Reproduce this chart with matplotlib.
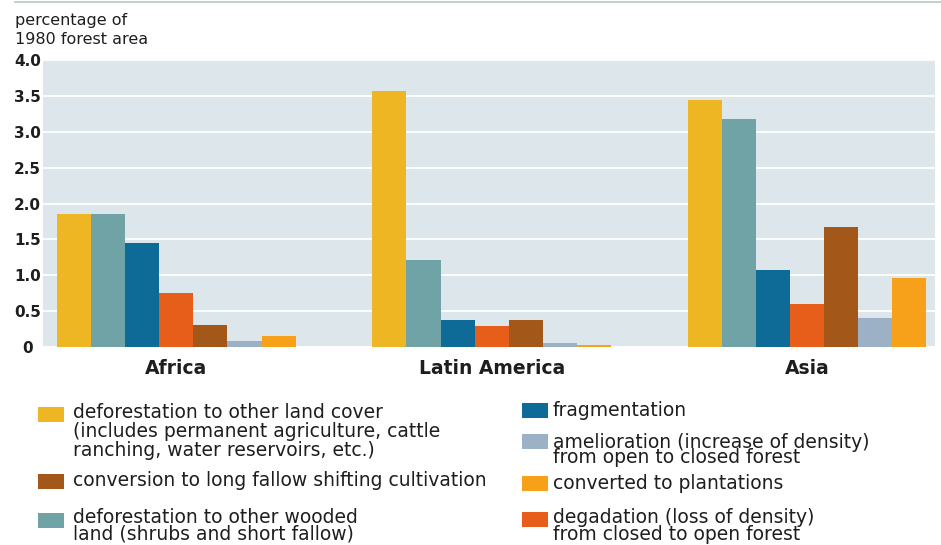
import numpy as np
from matplotlib import pyplot as plt
from matplotlib.patches import Rectangle

# data
regions = ['Africa', 'Latin America', 'Asia']
deforest_other = [1.85, 3.57, 3.44]
deforest_wooded = [1.86, 1.21, 3.18]
fragmentation = [1.45, 0.37, 1.08]
degradation = [0.75, 0.29, 0.60]
long_fallow = [0.30, 0.37, 1.67]
amelioration = [0.08, 0.05, 0.40]
plantations = [0.16, 0.03, 0.96]

yticks = [0, 0.5, 1.0, 1.5, 2.0, 2.5, 3.0, 3.5, 4.0]
ytick_labels = ['0', '0.5', '1.0', '1.5', '2.0', '2.5', '3.0', '3.5', '4.0']

# bar order inside each group
series = [deforest_other, deforest_wooded, fragmentation, degradation,
          long_fallow, amelioration, plantations]
colors = ['#efb624', '#6fa3a6', '#0e6b97', '#e75e1a', '#a3581a', '#9cb0c6', '#f7a01a']

labels = {
    'deforest_other': 'deforestation to other land cover\n(includes permanent agriculture, cattle\nranching, water reservoirs, etc.)',
    'long_fallow': 'conversion to long fallow shifting cultivation',
    'deforest_wooded': 'deforestation to other wooded\nland (shrubs and short fallow)',
    'fragmentation': 'fragmentation',
    'amelioration': 'amelioration (increase of density)\nfrom open to closed forest',
    'plantations': 'converted to plantations',
    'degradation': 'degadation (loss of density)\nfrom closed to open forest',
}
label_colors = {
    'deforest_other': colors[0], 'deforest_wooded': colors[1],
    'fragmentation': colors[2], 'degradation': colors[3],
    'long_fallow': colors[4], 'amelioration': colors[5],
    'plantations': colors[6],
}

W, H = 941, 545
fig = plt.figure(figsize=(W / 100, H / 100), dpi=100)
fig.patch.set_facecolor('white')

def fx(x):
    return x / W

def fy(y):
    return 1 - y / H

ax = fig.add_axes([fx(43), fy(347), fx(935 - 43), (347 - 60) / H])
ax.set_facecolor('#dde6ea')

step = 9.25
base = np.arange(len(regions)) * step
for j, vals in enumerate(series):
    ax.bar(base + j, vals, width=1.0, color=colors[j], linewidth=0)

ax.set_xlim(-0.91, 25.25)
ax.set_ylim(0, 4.0)
ax.set_yticks(yticks)
ax.set_yticklabels(ytick_labels, fontsize=11, fontweight='bold', color='#1e1e1e',
                   ha='center')
ax.set_xticks(base + 3)
ax.set_xticklabels(regions, fontsize=13.5, fontweight='bold', color='#1e1e1e')
ax.tick_params(axis='y', length=0, pad=11)
ax.tick_params(axis='x', length=0, pad=9)
ax.grid(axis='y', color='white', linewidth=1.3)
ax.set_axisbelow(True)
for s in ax.spines.values():
    s.set_visible(False)

# title above the y axis
fig.text(fx(15), fy(13), 'percentage of\n1980 forest area', fontsize=11.5,
         color='#1e1e1e', va='top', ha='left', linespacing=1.3)

# faint rule at the very top
fig.add_artist(plt.Line2D([fx(15), 1], [fy(1.5), fy(1.5)], color='#b9c6c8',
                          linewidth=1.2, transform=fig.transFigure))

# legend laid out by hand: (key, patch_x, text_x, patch_center_y, text_top_y, linespacing)
legend_layout = [
    ('deforest_other', 38, 73, 414, 403, 1.01),
    ('long_fallow', 38, 73, 481, 471, 1.0),
    ('deforest_wooded', 38, 73, 520, 508, 0.84),
    ('fragmentation', 522, 553, 410, 401, 1.0),
    ('amelioration', 522, 553, 441, 433, 0.76),
    ('plantations', 522, 553, 483, 474, 1.0),
    ('degradation', 522, 553, 519, 508, 0.84),
]
for key, px, tx, pcy, tty, ls in legend_layout:
    fig.add_artist(Rectangle((fx(px), fy(pcy + 7.5)), fx(26), 15 / H,
                             facecolor=label_colors[key], edgecolor='none',
                             transform=fig.transFigure))
    fig.text(fx(tx), fy(tty), labels[key], fontsize=13.5, color='#1e1e1e',
             va='top', ha='left', linespacing=ls)

fig.savefig('out.png', dpi=100)
